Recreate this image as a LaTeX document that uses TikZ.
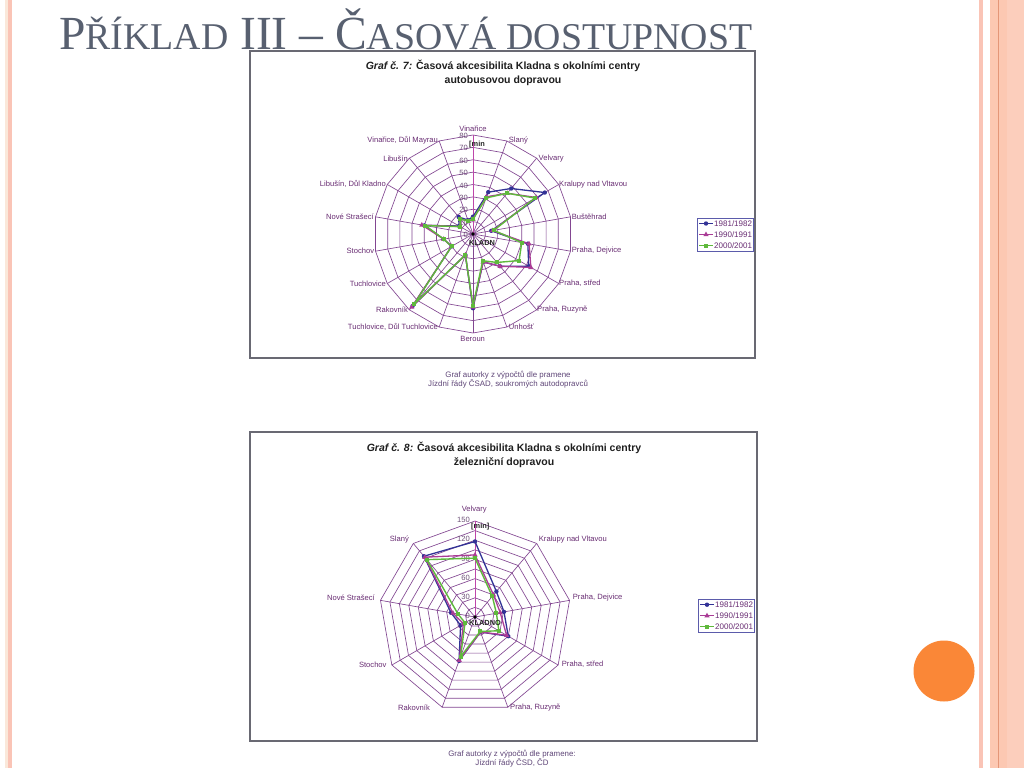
\documentclass[tikz,border=0pt]{standalone}
\usepackage{fontspec}
\setmainfont{Liberation Sans}
\newfontfamily\titlefont{Liberation Serif}
\definecolor{titlec}{RGB}{88,96,112}
\definecolor{gridc}{RGB}{130,70,145}
\definecolor{axisc}{RGB}{190,70,170}
\definecolor{labc}{RGB}{105,45,115}
\definecolor{numc}{RGB}{110,80,120}
\definecolor{serA}{RGB}{50,50,150}
\definecolor{serB}{RGB}{170,60,150}
\definecolor{serC}{RGB}{95,185,60}
\definecolor{framec}{RGB}{105,105,115}
\definecolor{capc}{RGB}{95,70,120}
\definecolor{stripeA}{RGB}{250,232,218}
\definecolor{stripeB}{RGB}{250,196,182}
\definecolor{peachA}{RGB}{252,200,178}
\definecolor{peachB}{RGB}{252,206,188}
\definecolor{peachline}{RGB}{228,150,120}
\definecolor{orangec}{RGB}{250,135,55}
\newcommand\mkCirc[1]{\fill[serA] (#1) circle (2.2);}
\newcommand\mkTri[1]{\fill[serB,shift={(#1)}] (0,-3) -- (2.6,1.6) -- (-2.6,1.6) -- cycle;}
\newcommand\mkSq[1]{\fill[serC,shift={(#1)}] (-2,-2) rectangle (2,2);}
\tikzset{
  gridline/.style={draw=gridc, line width=0.65pt},
  valaxis/.style={draw=axisc, line width=1pt},
  catlabel/.style={font=\fontsize{7.6}{8}\selectfont, text=labc, inner sep=0pt},
  numlabel/.style={font=\fontsize{7.6}{8}\selectfont, text=numc, inner sep=0pt, anchor=east},
  boldlabel/.style={font=\bfseries\fontsize{7.4}{8}\selectfont, text=black!85, inner sep=0pt},
  serieA/.style={draw=serA, line width=1.3pt, line join=round},
  serieB/.style={draw=serB, line width=1.3pt, line join=round},
  serieC/.style={draw=serC, line width=1.4pt, line join=round},
  chartframe/.style={draw=framec, line width=1.3pt, fill=white},
  legbox/.style={draw=serA!80, line width=0.8pt, fill=white},
  legtext/.style={font=\fontsize{8}{8}\selectfont, text=labc, inner sep=0pt, anchor=west},
  charttitle/.style={font=\bfseries\fontsize{10.5}{14}\selectfont, align=center, text=black!88, inner sep=0pt},
  caption/.style={font=\fontsize{7.9}{9}\selectfont, align=center, text=capc, inner sep=0pt}
}
\begin{document}
\begin{tikzpicture}[x=1pt,y=-1pt]
\useasboundingbox (0,0) rectangle (1024,768);
\fill[white] (0,0) rectangle (1024,768);
% side stripes
\fill[stripeA] (5,0) rectangle (8,768);
\fill[stripeB] (8,0) rectangle (12,768);
\fill[stripeB] (979,0) rectangle (983,768);
\fill[peachA] (990,0) rectangle (1007,768);
\fill[peachB] (1007,0) rectangle (1024,768);
\draw[peachline, line width=1pt] (998.5,0) -- (998.5,768);
% orange circle
\fill[orangec] (944,671) circle (30.5);
% slide title
\node[anchor=base west, inner sep=0pt, text=titlec] (title) at (59,49)
  {\titlefont\fontsize{47.5}{47.5}\selectfont P\fontsize{37.8}{37.8}\selectfont ŘÍKLAD\fontsize{47.5}{47.5}\selectfont{} III – Č\fontsize{37.8}{37.8}\selectfont ASOVÁ DOSTUPNOST};

% ================= CHART 1 =================
\draw[chartframe] (250,51) rectangle (755,358);
\node[charttitle] (t1) at (503,73) {{\itshape Graf č. 7:} Časová akcesibilita Kladna s okolními centry\\autobusovou dopravou};
\begin{scope}[shift={(473,234)}]
  \foreach \i in {1,...,8} {
    \draw[gridline] (0,{-\i*99/8}) \foreach \k in {1,...,17} { -- ({\i*99/8*sin(\k*20)},{-\i*99/8*cos(\k*20)}) } -- cycle;
  }
  \foreach \k in {1,...,17} \draw[gridline] (0,0) -- ({99*sin(\k*20)},{-99*cos(\k*20)});
  \draw[valaxis] (0,0) -- (0,-99);
  \foreach \v [count=\n from 0] in {0,10,20,30,40,50,60,70,80}
    \node[numlabel] (na\n) at (-5,{-\v*99/80+1}) {\v};
  \foreach \v [count=\k from 0] in {14,36,48,67,15,45,52,34,24,60,18,76,20,24,40,13,18,12}
    \coordinate (aA\k) at ({\v*99/80*sin(\k*20)},{-\v*99/80*cos(\k*20)});
  \foreach \v [count=\k from 0] in {12,32,43,59,16,46,54,34,24,59,18,77,20,24,42,12,16,11}
    \coordinate (aB\k) at ({\v*99/80*sin(\k*20)},{-\v*99/80*cos(\k*20)});
  \foreach \v [count=\k from 0] in {12,31,43,58,17,40,43,30,23,58,18,74,20,24,39,12,16,11}
    \coordinate (aC\k) at ({\v*99/80*sin(\k*20)},{-\v*99/80*cos(\k*20)});
  \draw[serieA] (aA0) \foreach \k in {1,...,17} { -- (aA\k) } -- cycle;
  \foreach \k in {0,...,17} {\mkCirc{aA\k}}
  \draw[serieB] (aB0) \foreach \k in {1,...,17} { -- (aB\k) } -- cycle;
  \foreach \k in {0,...,17} {\mkTri{aB\k}}
  \draw[serieC] (aC0) \foreach \k in {1,...,17} { -- (aC\k) } -- cycle;
  \foreach \k in {0,...,17} {\mkSq{aC\k}}
  \fill[black] (0,0) circle (1.8);
\end{scope}
\node[boldlabel, anchor=west] (minA) at (469,145) {[min};
\node[boldlabel] (kladA) at (482,243.3) {KLADN};
% category labels chart 1
\node[catlabel] (ca0) at (473,128.7) {Vinařice};
\node[catlabel, anchor=west] (ca1) at (508.7,140.7) {Slaný};
\node[catlabel, anchor=west] (ca2) at (538.5,158.3) {Velvary};
\node[catlabel, anchor=west] (ca3) at (559,184.3) {Kralupy nad Vltavou};
\node[catlabel, anchor=west] (ca4) at (571.7,216.7) {Buštěhrad};
\node[catlabel, anchor=west] (ca5) at (571.7,251) {Praha, Dejvice};
\node[catlabel, anchor=west] (ca6) at (559,283.3) {Praha, střed};
\node[catlabel, anchor=west] (ca7) at (537,309.3) {Praha, Ruzyně};
\node[catlabel, anchor=west] (ca8) at (508.7,326.7) {Unhošť};
\node[catlabel] (ca9) at (472.7,338.7) {Beroun};
\node[catlabel, anchor=east] (ca10) at (438,326.7) {Tuchlovice, Důl Tuchlovice};
\node[catlabel, anchor=east] (ca11) at (408,309.3) {Rakovník};
\node[catlabel, anchor=east] (ca12) at (386,283.3) {Tuchlovice};
\node[catlabel, anchor=east] (ca13) at (374.3,251) {Stochov};
\node[catlabel, anchor=east] (ca14) at (374,216.7) {Nové Strašecí};
\node[catlabel, anchor=east] (ca15) at (386,184.3) {Libušín, Důl Kladno};
\node[catlabel, anchor=east] (ca16) at (408,158.3) {Libušín};
\node[catlabel, anchor=east] (ca17) at (438,140.7) {Vinařice, Důl Mayrau};
% legend chart 1
\draw[legbox] (697,218) rectangle (753,251);
\coordinate (la1) at (706,223.5);
\coordinate (la2) at (706,234.5);
\coordinate (la3) at (706,245.5);
\draw[serieA, line width=0.9pt] (699,223.5) -- (713,223.5); \mkCirc{la1}
\draw[serieB, line width=0.9pt] (699,234.5) -- (713,234.5); \mkTri{la2}
\draw[serieC, line width=0.9pt] (699,245.5) -- (713,245.5); \mkSq{la3}
\node[legtext] (lta1) at (714,223.5) {1981/1982};
\node[legtext] (lta2) at (714,234.5) {1990/1991};
\node[legtext] (lta3) at (714,245.5) {2000/2001};
\node[caption] (capA) at (508,379.5) {Graf autorky z výpočtů dle pramene\\Jízdní řády ČSAD, soukromých autodopravců};

% ================= CHART 2 =================
\draw[chartframe] (250,432) rectangle (757,741);
\node[charttitle] (t2) at (504,454.5) {{\itshape Graf č. 8:} Časová akcesibilita Kladna s okolními centry\\železniční dopravou};
\begin{scope}[shift={(475,617)}]
  \foreach \i in {1,...,10} {
    \draw[gridline] (0,{-\i*96/10}) \foreach \k in {1,...,8} { -- ({\i*96/10*sin(\k*40)},{-\i*96/10*cos(\k*40)}) } -- cycle;
  }
  \foreach \k in {1,...,8} \draw[gridline] (0,0) -- ({96*sin(\k*40)},{-96*cos(\k*40)});
  \draw[valaxis] (0,0) -- (0,-96);
  \foreach \v [count=\n from 0] in {0,30,60,90,120,150}
    \node[numlabel] (nb\n) at (-5,{-\v*96/150-1}) {\v};
  \foreach \v [count=\k from 0] in {118,52,46,60,25,73,26,38,124}
    \coordinate (bA\k) at ({\v*96/150*sin(\k*40)},{-\v*96/150*cos(\k*40)});
  \foreach \v [count=\k from 0] in {97,45,40,57,25,72,21,35,122}
    \coordinate (bB\k) at ({\v*96/150*sin(\k*40)},{-\v*96/150*cos(\k*40)});
  \foreach \v [count=\k from 0] in {92,42,34,43,24,66,18,27,117}
    \coordinate (bC\k) at ({\v*96/150*sin(\k*40)},{-\v*96/150*cos(\k*40)});
  \draw[serieA] (bA0) \foreach \k in {1,...,8} { -- (bA\k) } -- cycle;
  \foreach \k in {0,...,8} {\mkCirc{bA\k}}
  \draw[serieB] (bB0) \foreach \k in {1,...,8} { -- (bB\k) } -- cycle;
  \foreach \k in {0,...,8} {\mkTri{bB\k}}
  \draw[serieC] (bC0) \foreach \k in {1,...,8} { -- (bC\k) } -- cycle;
  \foreach \k in {0,...,8} {\mkSq{bC\k}}
  \fill[black] (0,0) circle (1.8);
\end{scope}
\node[boldlabel, anchor=west] (minB) at (471,526.7) {[min]};
\node[boldlabel, anchor=west] (kladB) at (469,622.7) {KLADNO};
% category labels chart 2
\node[catlabel] (cb0) at (474.3,510) {Velvary};
\node[catlabel, anchor=west] (cb1) at (538.7,539.3) {Kralupy nad Vltavou};
\node[catlabel, anchor=west] (cb2) at (572.7,597.7) {Praha, Dejvice};
\node[catlabel, anchor=west] (cb3) at (561.7,664.3) {Praha, střed};
\node[catlabel, anchor=west] (cb4) at (510,707.7) {Praha, Ruzyně};
\node[catlabel, anchor=east] (cb5) at (430,707.7) {Rakovník};
\node[catlabel, anchor=east] (cb6) at (386.7,664.3) {Stochov};
\node[catlabel, anchor=east] (cb7) at (375,597.7) {Nové Strašecí};
\node[catlabel, anchor=east] (cb8) at (409,539.3) {Slaný};
% legend chart 2
\draw[legbox] (698,599) rectangle (754,632);
\coordinate (lb1) at (707,604.7);
\coordinate (lb2) at (707,615.7);
\coordinate (lb3) at (707,626.7);
\draw[serieA, line width=0.9pt] (700,604.7) -- (714,604.7); \mkCirc{lb1}
\draw[serieB, line width=0.9pt] (700,615.7) -- (714,615.7); \mkTri{lb2}
\draw[serieC, line width=0.9pt] (700,626.7) -- (714,626.7); \mkSq{lb3}
\node[legtext] (ltb1) at (715,604.7) {1981/1982};
\node[legtext] (ltb2) at (715,615.7) {1990/1991};
\node[legtext] (ltb3) at (715,626.7) {2000/2001};
\node[caption] (capB) at (512,758.3) {Graf autorky z výpočtů dle pramene:\\Jízdní řády ČSD, ČD};
\end{tikzpicture}
\end{document}
